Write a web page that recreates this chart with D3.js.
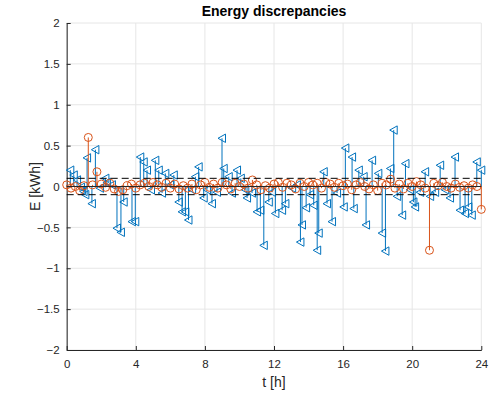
<!DOCTYPE html>
<html>
<head>
<meta charset="utf-8">
<script src="https://cdn.jsdelivr.net/npm/d3@7"></script>
<style>
  body { margin: 0; background: #fff; }
  svg { display: block; font-family: "Liberation Sans", Helvetica, Arial, sans-serif; }
</style>
</head>
<body>
<div id="chart"></div>
<script>
// blue series (stem, "<" markers): hour, kWh
const blueT = [0.21, 0.41, 0.6, 0.83, 0.98, 1.08, 1.18, 1.46, 1.66, 1.93, 2.24, 2.33, 2.62, 2.91, 3.14, 3.3,
  3.78, 3.97, 4.26, 4.46, 4.65, 4.88, 5.13, 5.33, 5.52, 5.71, 6.0, 6.2, 6.49, 6.68, 6.87, 7.05,
  7.26, 7.45, 7.64, 7.93, 8.12, 8.41, 8.7, 8.99, 9.09, 9.38, 9.57, 9.86, 10.08, 10.34, 10.44, 10.73,
  11.02, 11.21, 11.41, 11.7, 11.89, 12.08, 12.47, 12.66, 13.05, 13.33, 13.53, 13.62, 13.86, 14.09,
  14.3, 14.5, 14.59, 14.88, 15.07, 15.36, 15.65, 16.04, 16.13, 16.52, 16.62, 16.91, 17.19, 17.33,
  17.68, 18.04, 18.26, 18.45, 18.74, 18.93, 19.13, 19.42, 19.61, 19.88, 20.07, 20.17, 20.46, 20.75,
  21.04, 21.33, 21.62, 21.91, 22.19, 22.48, 22.77, 23.06, 23.25, 23.45, 23.74, 24.0]
const blueE = [0.20, 0.14, 0.08, -0.01, -0.06, -0.10, 0.35, -0.21, 0.45, -0.02, 0.10, 0.05, 0.02, -0.51, -0.56, -0.19,
  -0.43, -0.43, 0.36, 0.30, 0.20, -0.04, 0.32, 0.20, -0.08, 0.16, 0.02, 0.14, -0.19, -0.31, -0.31, -0.41,
  -0.04, 0.12, 0.24, -0.14, -0.04, -0.21, -0.07, 0.59, 0.22, 0.12, -0.08, 0.20, 0.10, -0.04, -0.14, -0.08,
  -0.31, -0.29, -0.72, -0.19, -0.07, -0.33, -0.29, -0.21, -0.02, 0.02, -0.68, -0.47, -0.26, -0.10,
  -0.23, -0.78, -0.57, 0.18, -0.21, -0.43, -0.08, -0.25, 0.47, 0.36, -0.27, 0.20, 0.12, -0.47,
  0.32, 0.16, -0.57, -0.79, 0.22, 0.69, -0.12, -0.35, 0.28, -0.04, -0.19, -0.25, -0.07, 0.18,
  -0.12, -0.07, 0.26, -0.04, -0.14, 0.36, -0.29, -0.33, -0.25, -0.35, 0.30, 0.20]

// orange series (stem, "o" markers), every 15 minutes
const orangeT = d3.range(0, 24.001, 0.25)
const orangeE = [0.02, -0.02, 0.0, -0.05, 0.01, 0.60, 0.02, 0.18, 0.03, -0.01, 0.04, -0.03, -0.06, -0.04, 0.01, 0.03,
  -0.02, 0.02, 0.04, 0.0, 0.05, 0.02, -0.01, 0.04, -0.02, 0.03, -0.03, 0.01, -0.02, 0.03, -0.04, 0.02,
  0.05, -0.01, 0.03, -0.02, 0.05, 0.02, -0.03, 0.04, 0.0, 0.03, -0.02, 0.08, 0.02, -0.04, 0.01, -0.02,
  0.03, 0.05, -0.01, 0.04, 0.02, -0.03, 0.04, 0.0, 0.05, 0.02, 0.04, -0.02, 0.05, 0.03, -0.01, 0.04,
  0.01, 0.03, -0.04, 0.02, 0.05, 0.0, -0.03, 0.02, -0.05, 0.04, 0.02, 0.09, -0.02, 0.03, -0.03, 0.04,
  0.0, 0.06, 0.02, -0.02, -0.78, 0.04, 0.01, 0.05, 0.0, -0.02, 0.03, -0.01, 0.01, -0.02, 0.02, 0.0, -0.28]

const xTicks = [0, 4, 8, 12, 16, 20, 24]
const yTicks = [-2, -1.5, -1, -0.5, 0, 0.5, 1, 1.5, 2]
const bounds = [-0.1, 0.1]

const W = 496, H = 397
const m = { left: 66.7, right: 14.7, top: 23, bottom: 47 }

const svg = d3.select("#chart").append("svg").attr("width", W).attr("height", H)

const x = d3.scaleLinear().domain([0, 24]).range([m.left, W - m.right])
const y = d3.scaleLinear().domain([-2, 2]).range([H - m.bottom, m.top])

const blue = "#0072BD", orange = "#D95319", axisCol = "#262626"

// grid
svg.append("g").selectAll("line").data(xTicks).join("line")
  .attr("x1", d => x(d)).attr("x2", d => x(d)).attr("y1", y(-2)).attr("y2", y(2))
  .attr("stroke", "#e6e6e6").attr("stroke-width", 1)
svg.append("g").selectAll("line").data(yTicks).join("line")
  .attr("x1", x(0)).attr("x2", x(24)).attr("y1", d => y(d)).attr("y2", d => y(d))
  .attr("stroke", "#e6e6e6").attr("stroke-width", 1)

// axes (ticks pointing inward)
const xAxis = svg.append("g").attr("transform", `translate(0,${y(-2)})`)
  .call(d3.axisBottom(x).tickValues(xTicks).tickSizeInner(-4).tickSizeOuter(0).tickPadding(8))
const yAxis = svg.append("g").attr("transform", `translate(${x(0)},0)`)
  .call(d3.axisLeft(y).tickValues(yTicks).tickSizeInner(-4).tickSizeOuter(0).tickPadding(7).tickFormat(d3.format("~g")))
for (const a of [xAxis, yAxis]) {
  a.select(".domain").attr("stroke", axisCol)
  a.selectAll(".tick line").attr("stroke", axisCol)
  a.selectAll("text").attr("fill", axisCol).attr("font-size", "11.5px")
}
xAxis.selectAll("text").attr("dy", "0.9em")

const bData = blueT.map((t, i) => ({ t, e: blueE[i] }))
const oData = orangeT.map((t, i) => ({ t, e: orangeE[i] }))

// blue stems
svg.append("g").selectAll("line").data(bData).join("line")
  .attr("x1", d => x(d.t)).attr("x2", d => x(d.t)).attr("y1", y(0)).attr("y2", d => y(d.e))
  .attr("stroke", blue).attr("stroke-width", 1)
svg.append("g").selectAll("path").data(bData).join("path")
  .attr("transform", d => `translate(${x(d.t)},${y(d.e)})`)
  .attr("d", "M-4,0L3.5,-4.2L3.5,4.2Z")
  .attr("fill", "none").attr("stroke", blue).attr("stroke-width", 1)

// orange stems
svg.append("g").selectAll("line").data(oData).join("line")
  .attr("x1", d => x(d.t)).attr("x2", d => x(d.t)).attr("y1", y(0)).attr("y2", d => y(d.e))
  .attr("stroke", orange).attr("stroke-width", 1)
svg.append("g").selectAll("circle").data(oData).join("circle")
  .attr("cx", d => x(d.t)).attr("cy", d => y(d.e)).attr("r", 4)
  .attr("fill", "none").attr("stroke", orange).attr("stroke-width", 1)

// baseline and tolerance bounds
svg.append("line").attr("x1", x(0)).attr("x2", x(24)).attr("y1", y(0)).attr("y2", y(0))
  .attr("stroke", axisCol).attr("stroke-width", 1)
svg.append("g").selectAll("line").data(bounds).join("line")
  .attr("x1", x(0)).attr("x2", x(24)).attr("y1", d => y(d)).attr("y2", d => y(d))
  .attr("stroke", "#000").attr("stroke-width", 1).attr("stroke-dasharray", "7,4")

// labels
svg.append("text").attr("x", (x(0) + x(24)) / 2).attr("y", 16).attr("text-anchor", "middle")
  .attr("font-size", "14px").attr("font-weight", "bold").attr("fill", "#000").text("Energy discrepancies")
svg.append("text").attr("x", (x(0) + x(24)) / 2).attr("y", 387).attr("text-anchor", "middle")
  .attr("font-size", "14px").attr("fill", axisCol).text("t [h]")
svg.append("text").attr("transform", `translate(40,${y(0)}) rotate(-90)`).attr("text-anchor", "middle")
  .attr("font-size", "14px").attr("fill", axisCol).text("E [kWh]")
</script>
</body>
</html>
